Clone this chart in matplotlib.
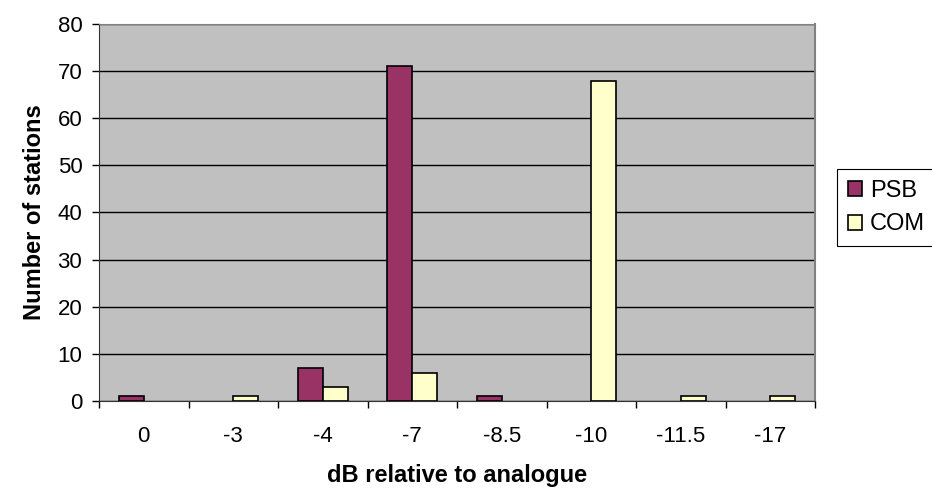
import matplotlib.pyplot as plt
from matplotlib.patches import Patch
import numpy as np

plt.rcParams['font.family'] = ['Liberation Sans', 'DejaVu Sans']

categories = ['0', '-3', '-4', '-7', '-8.5', '-10', '-11.5', '-17']
psb = [1, 0, 7, 71, 1, 0, 0, 0]
com = [0, 1, 3, 6, 0, 68, 1, 1]
psb_color = '#993366'
com_color = '#FFFFCC'

fig = plt.figure(figsize=(9.32, 4.98), dpi=100)
ax = fig.add_axes([99 / 932, 1 - 401 / 498, 716 / 932, 377 / 498])

x = np.arange(len(categories))
w = 0.28
# zero-height bars get no outline, like the original
ax.bar(x - w / 2, psb, width=w, color=psb_color, edgecolor='black',
       linewidth=[1.2 if v else 0 for v in psb], zorder=3)
ax.bar(x + w / 2, com, width=w, color=com_color, edgecolor='black',
       linewidth=[1.2 if v else 0 for v in com], zorder=3)

ax.set_facecolor('#C0C0C0')
ax.set_xlim(-0.5, len(categories) - 0.5)
ax.set_ylim(0, 80)
ax.set_yticks(range(0, 81, 10))
ax.yaxis.grid(True, color='black', linewidth=1, zorder=1)
ax.set_axisbelow(True)

# tick marks on category boundaries, labels in the middle
ax.set_xticks(np.arange(-0.5, len(categories), 1))
ax.set_xticklabels([])
ax.set_xticks(x, minor=True)
ax.set_xticklabels(categories, minor=True, fontsize=16)
ax.tick_params(axis='x', which='major', length=5, direction='out', width=1)
ax.tick_params(axis='x', which='minor', length=0, pad=18)
ax.tick_params(axis='y', length=5, direction='out', width=1, labelsize=16, pad=7)

ax.spines['top'].set_color('#808080')
ax.spines['right'].set_color('#808080')
ax.spines['right'].set_linewidth(1.5)
ax.spines['left'].set_color('#333333')
ax.spines['bottom'].set_color('#333333')

ax.set_xlabel('dB relative to analogue', fontsize=17, fontweight='bold', labelpad=12)
ax.set_ylabel('Number of stations', fontsize=17, fontweight='bold', labelpad=8)

handles = [Patch(facecolor=psb_color, edgecolor='black', linewidth=1.2, label='PSB'),
           Patch(facecolor=com_color, edgecolor='black', linewidth=1.2, label='COM')]
leg = fig.legend(handles=handles, loc='upper left', bbox_to_anchor=(837 / 932, 1 - 169 / 498),
                 borderaxespad=0, frameon=True, fancybox=False, edgecolor='black', framealpha=1,
                 fontsize=17, handlelength=0.6, handleheight=0.6, handletextpad=0.35,
                 labelspacing=0.5, borderpad=0.45)
leg.get_frame().set_linewidth(0.8)

plt.savefig('out.png', dpi=100)
